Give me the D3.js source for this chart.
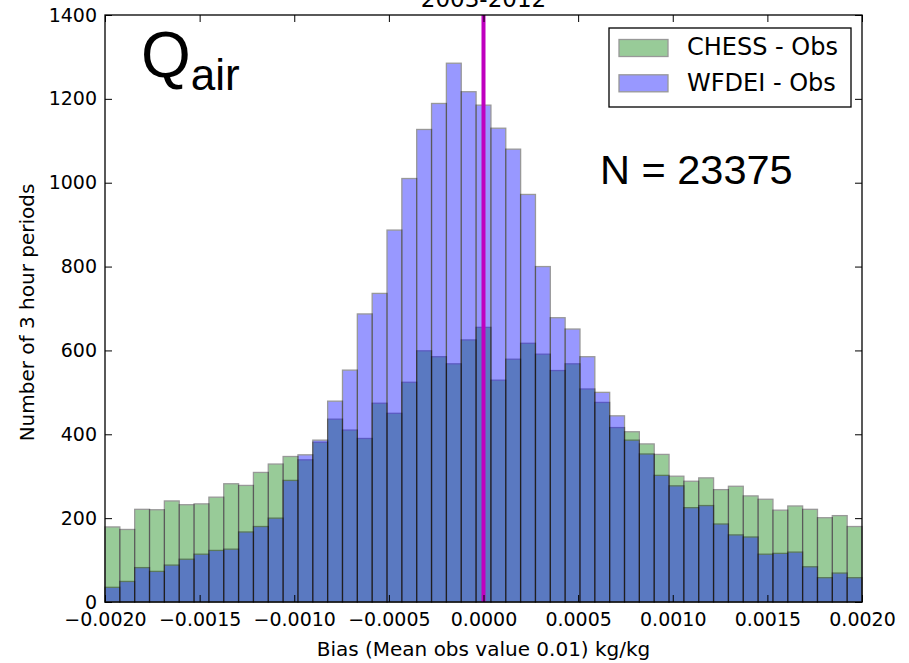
<!DOCTYPE html>
<html lang="en">
<head>
  <meta charset="UTF-8">
  <title>Qair bias histogram</title>
  <script src="https://d3js.org/d3.v7.min.js"></script>
  <style>
    body { margin: 0; background: #fff; }
    text { font-family: "DejaVu Sans", sans-serif; fill: #000; }
    .bar { stroke: #000; stroke-width: 1.3px; }
  </style>
</head>
<body>
  <svg id="viz" width="909" height="663"></svg>

  <script>
    // histogram counts per bin (51 bins from -0.002 to 0.002)
    const chessCounts = [179,173,221,220,241,232,234,250,282,278,309,329,347,339,381,436,410,390,474,450,
                         524,599,585,568,625,655,529,579,617,591,552,568,508,476,416,406,377,352,300,288,
                         296,268,276,253,245,219,229,221,201,206,180];
    const wfdeiCounts = [35,49,82,73,88,102,114,123,126,167,180,200,290,351,386,479,553,687,736,887,
                         1010,1127,1189,1285,1217,1185,1130,1080,972,800,678,651,585,500,444,386,353,302,277,225,
                         230,186,160,155,114,116,119,84,58,69,58];
    const binStart = -0.002, binEnd = 0.002;
    const xTicks = [-0.002, -0.0015, -0.001, -0.0005, 0, 0.0005, 0.001, 0.0015, 0.002];
    const yTicks = [0, 200, 400, 600, 800, 1000, 1200, 1400];
    const seriesNames = ["CHESS - Obs", "WFDEI - Obs"];
    const seriesColors = ["#008000", "#0000ff"];
    const meanLine = 0;

    const svg = d3.select("#viz"),
          margin = { top: 15, right: 47, bottom: 61, left: 105 },
          width = +svg.attr("width") - margin.left - margin.right,
          height = +svg.attr("height") - margin.top - margin.bottom,
          tickLen = 7;

    const nBins = chessCounts.length;
    const binW = (binEnd - binStart) / nBins;

    const x = d3.scaleLinear().domain([-0.002, 0.002]).range([0, width]);
    const y = d3.scaleLinear().domain([0, 1400]).range([height, 0]);

    const g = svg.append("g").attr("transform", `translate(${margin.left},${margin.top})`);

    // bars, green first then blue, both semi-transparent
    [chessCounts, wfdeiCounts].forEach((counts, s) => {
      g.append("g").selectAll("rect")
        .data(counts)
        .enter()
        .append("rect")
        .attr("class", "bar")
        .attr("x", (_, i) => x(binStart + i * binW))
        .attr("width", x(binStart + binW) - x(binStart))
        .attr("y", d => y(d))
        .attr("height", d => height - y(d))
        .attr("fill", seriesColors[s])
        .attr("opacity", 0.4);
    });

    // vertical magenta line
    g.append("line")
      .attr("x1", x(meanLine)).attr("x2", x(meanLine))
      .attr("y1", 0).attr("y2", height)
      .attr("stroke", "#bf00bf")
      .attr("stroke-width", 4);

    // axes, ticks pointing inwards on all four sides
    const fmtX = d => d3.format(".4f")(d).replace("-", "\u2212");
    const axisStyle = (sel) => {
      sel.select(".domain").remove();
      sel.selectAll(".tick line").attr("stroke", "#000").attr("stroke-width", 1);
      sel.selectAll(".tick text").style("font-size", "19px").style("font-family", "DejaVu Sans");
    };

    g.append("g")
      .attr("transform", `translate(0,${height})`)
      .call(d3.axisBottom(x).tickValues(xTicks).tickFormat(fmtX).tickSizeInner(-tickLen).tickPadding(11))
      .call(axisStyle);
    g.append("g")
      .call(d3.axisTop(x).tickValues(xTicks).tickFormat("").tickSizeInner(-tickLen))
      .call(axisStyle);
    g.append("g")
      .call(d3.axisLeft(y).tickValues(yTicks).tickFormat(d3.format("d")).tickSizeInner(-tickLen).tickPadding(8))
      .call(axisStyle);
    g.append("g")
      .attr("transform", `translate(${width},0)`)
      .call(d3.axisRight(y).tickValues(yTicks).tickFormat("").tickSizeInner(-tickLen))
      .call(axisStyle);

    // frame
    g.append("rect")
      .attr("width", width).attr("height", height)
      .attr("fill", "none").attr("stroke", "#000").attr("stroke-width", 1.3);

    // axis labels and title
    svg.append("text")
      .attr("x", margin.left + width / 2).attr("y", 656)
      .attr("text-anchor", "middle").style("font-size", "20px")
      .text("Bias (Mean obs value 0.01) kg/kg");
    svg.append("text")
      .attr("transform", `translate(34,${margin.top + height / 2 + 4}) rotate(-90)`)
      .attr("text-anchor", "middle").style("font-size", "20px")
      .text("Number of 3 hour periods");
    svg.append("text")
      .attr("x", margin.left + width / 2).attr("y", 7)
      .attr("text-anchor", "middle").style("font-size", "23px")
      .text("2003-2012");

    // Q_air annotation and N count
    const q = svg.append("text")
      .attr("x", 141).attr("y", 77)
      .style("font-family", "Liberation Sans, Arial, sans-serif")
      .style("font-size", "64px")
      .text("Q");
    q.append("tspan").attr("dy", 13).style("font-size", "44px").text("air");

    svg.append("text")
      .attr("x", 600).attr("y", 184)
      .style("font-family", "Liberation Sans, Arial, sans-serif")
      .style("font-size", "41.5px")
      .text("N = 23375");

    // legend
    const legend = svg.append("g").attr("transform", "translate(609,28)");
    legend.append("rect")
      .attr("width", 242).attr("height", 79)
      .attr("fill", "#fff").attr("stroke", "#000").attr("stroke-width", 1.3);
    seriesNames.forEach((name, i) => {
      legend.append("rect")
        .attr("class", "bar")
        .attr("x", 10).attr("y", 11.5 + i * 35.3)
        .attr("width", 49).attr("height", 17)
        .attr("fill", seriesColors[i]).attr("opacity", 0.4);
      legend.append("text")
        .attr("x", 78).attr("y", 27 + i * 35.5)
        .style("font-size", "24px")
        .text(name);
    });
  </script>
</body>
</html>
